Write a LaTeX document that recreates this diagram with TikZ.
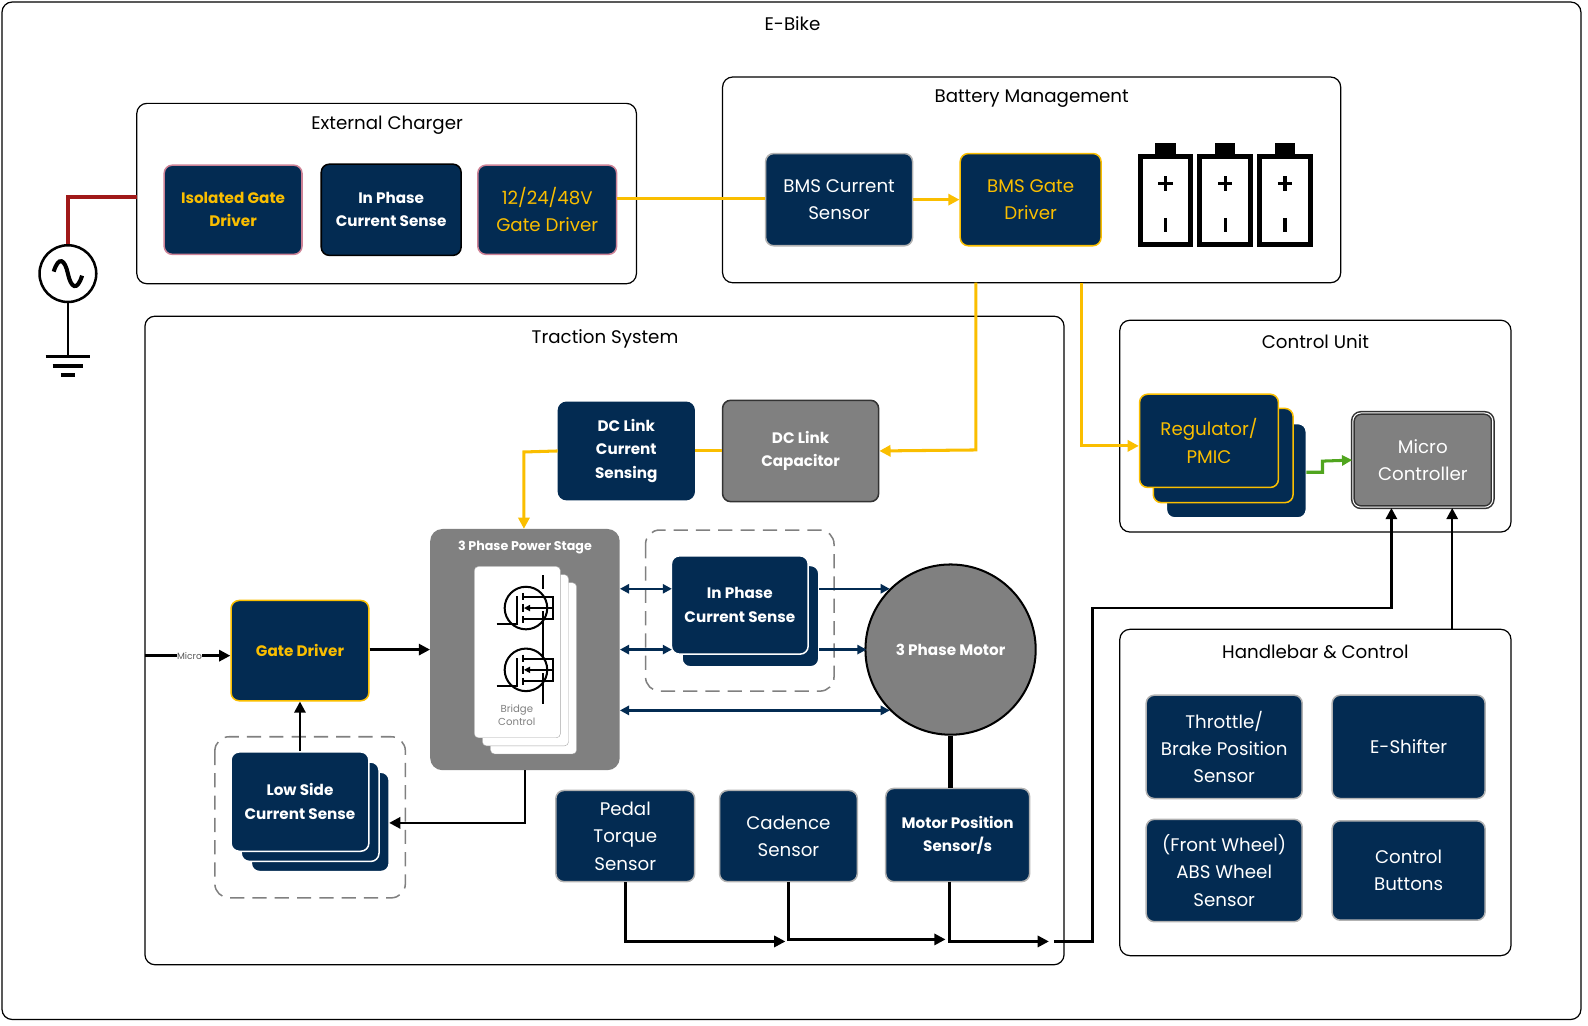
\documentclass[tikz,border=0pt]{standalone}
\usepackage{fontspec}
\setmainfont{Poppins}
\usetikzlibrary{arrows.meta}
\definecolor{navy}{RGB}{3,43,82}
\definecolor{yel}{RGB}{250,190,0}
\definecolor{dred}{RGB}{160,25,25}
\definecolor{grn}{RGB}{80,165,30}
\definecolor{pnk}{RGB}{205,130,150}
\definecolor{gr}{RGB}{128,128,128}
\tikzset{
 grp/.style={draw=black,line width=1.2pt,rounded corners=10},
 ttl/.style={font=\fontsize{18}{21}\selectfont},
 bx/.style={fill=navy,rounded corners=8,line width=1.5pt,align=center,text=white,inner sep=2pt},
 breg/.style={font=\fontsize{18}{27}\selectfont},
 bbold/.style={font=\bfseries\fontsize{15}{23}\selectfont},
 yc/.style={draw=yel,line width=3pt},
 bc/.style={draw=black,line width=2.5pt},
 nc/.style={draw=navy,line width=2.5pt,{Triangle[length=9pt,width=9pt]}-{Triangle[length=9pt,width=9pt]}},
 tip/.style={-{Triangle[length=11pt,width=11pt]}},
}
\begin{document}
\begin{tikzpicture}[x=1pt,y=-1pt]
\useasboundingbox (0,0) rectangle (1567,1011.5);
% groups
\draw[grp] (2,2) rectangle (1560,1006);
\node[ttl] (tEB) at (782,23) {E-Bike};
\draw[grp] (135,102) rectangle (628,280);
\node[ttl] (tEC) at (382,124) {External Charger};
\draw[grp] (713,76) rectangle (1323,279);
\node[ttl] (tBM) at (1018,97) {Battery Management};
\draw[grp] (143,312) rectangle (1050,952);
\node[ttl] (tTS) at (597,334) {Traction System};
\draw[grp] (1105,316) rectangle (1491,525);
\node[ttl] (tCU) at (1298,337) {Control Unit};
\draw[grp] (1105,621) rectangle (1491,943);
\node[ttl] (tHB) at (1298,643) {Handlebar \& Control};
% charger
\node[bx,draw=pnk,text=yel,bbold,minimum width=136,minimum height=88] (igd) at (230,207) {Isolated Gate\\Driver};
\node[bx,draw=black,bbold,minimum width=138,minimum height=90] (ipc) at (386,207) {In Phase\\Current Sense};
\node[bx,draw=pnk,text=yel,breg,minimum width=137,minimum height=88] (gd48) at (540,207) {12/24/48V\\Gate Driver};
% BMS
\node[bx,draw=gray!60,breg,minimum width=145,minimum height=91] (bmsc) at (828,197) {BMS Current\\Sensor};
\node[bx,draw=yel,text=yel,breg,minimum width=139,minimum height=91] (bmsg) at (1017,197) {BMS Gate\\Driver};
\foreach \bx in {1150,1209,1268}{
 \fill[black] (\bx-10,141) rectangle (\bx+10,152);
 \draw[line width=5pt,fill=white] (\bx-25,154) rectangle (\bx+25,241);
 \draw[line width=3pt] (\bx-7,181) -- (\bx+7,181) (\bx,174) -- (\bx,188);
 \draw[line width=3pt] (\bx,215) -- (\bx,229);
}
\draw[yc] (gd48.east |- 0,196) -- (bmsc.west |- 0,196);
\draw[yc,tip] (bmsc.east) -- (bmsg.west);
% AC source
\coordinate (rc) at (67,194);
\coordinate (rs) at (135,194);
\node[draw,circle,line width=2.5pt,minimum size=56] (ac) at (67,270) {};
\draw[dred,line width=4pt] (rs) -- (rc) -- (67,241);
\draw[line width=2.5pt] (67,241) -- (ac.north);
\draw[line width=4pt] (53,268) .. controls (58,252) and (64,256) .. (67,270) .. controls (70,284) and (76,288) .. (81,272);
\coordinate (gnd) at (67,352);
\draw[line width=2.5pt] (ac.south) -- (gnd);
\draw[line width=3.5pt] (45,352) -- (89,352) (52,361) -- (82,361) (60,370) -- (74,370);
% traction
\node[bx,draw=navy,bbold,minimum width=134,minimum height=96] (dcs) at (618,445) {DC Link\\Current\\Sensing};
\node[bx,fill=gr,draw=black!80,bbold,minimum width=154,minimum height=100] (dcc) at (790,445) {DC Link\\Capacitor};
\draw[yc,tip] (963,279) -- (963,444) -- (dcc.east);
\draw[yc] (dcs.east) -- (dcc.west);
% power stage
\node[fill=gr,rounded corners=12,minimum width=187,minimum height=238] (ps) at (518,641) {};
\node[text=white,font=\bfseries\fontsize{12.5}{14}\selectfont] (pst) at (518,540) {3 Phase Power Stage};
\draw[yc,tip] (dcs.west) -- (517,446) -- (ps.north -| 517,0);
\foreach \o in {16,8,0}{\draw[draw=gray!70,fill=white,rounded corners=4] (468+\o,559+\o) rectangle (553+\o,728+\o);}
\node[text=gray,font=\fontsize{10}{13}\selectfont,align=center] (bcl) at (510,706) {Bridge\\Control};
\foreach \my in {600,661}{
 \draw[line width=2pt] (519,\my) circle (21);
 \draw[line width=2pt] (490,\my+16) -- (510,\my+16) -- (510,\my-12);
 \draw[line width=2pt] (516,\my-15) -- (516,\my-8) (516,\my-4) -- (516,\my+4) (516,\my+8) -- (516,\my+15);
 \draw[line width=2pt] (516,\my-11) -- (536,\my-11) (516,\my+11) -- (536,\my+11) -- (536,\my+3);
 \draw[line width=2pt,-{Triangle[length=6pt,width=6pt]}] (546,\my) -- (517,\my);
 \draw[line width=2pt] (536,\my+11) -- (546,\my+11) -- (546,\my-11) -- (536,\my-11);
}
\draw[line width=2pt] (536,581) -- (536,567) (536,611) -- (536,650) (536,672) -- (536,695);
% in phase current sense
\draw[gray,dash pattern=on 14pt off 8pt,line width=1.5pt,rounded corners=14] (637,523) rectangle (823,682);
\draw[fill=navy,draw=white,line width=1.5pt,rounded corners=8] (673,558) rectangle (808,658);
\node[bx,draw=white,bbold,minimum width=135,minimum height=97] (ipc2) at (730,597) {In Phase\\Current Sense};
\node[circle,fill=gr,draw=black,line width=2pt,minimum size=168,text=white,bbold] (mot) at (938,641) {3 Phase Motor};
\draw[nc] (ps.east |- 0,581) -- (663,581);
\draw[nc] (ps.east |- 0,641) -- (663,641);
\draw[draw=navy,line width=2.5pt,-{Triangle[length=9pt,width=9pt]}] (808,581) -- (878,581);
\draw[draw=navy,line width=2.5pt,-{Triangle[length=9pt,width=9pt]}] (808,641) -- (855,641);
\draw[nc] (ps.east |- 0,701) -- (878,701);
% gate driver
\node[bx,draw=yel,text=yel,bbold,minimum width=136,minimum height=99] (gd) at (296,642) {Gate Driver};
\coordinate (micin) at (143,647);
\draw[bc,tip] (micin) -- (gd.west |- 0,647);
\node[fill=white,inner sep=0.5pt,text=gray!70!black,font=\fontsize{9}{10}\selectfont] (micl) at (187,647) {Micro};
\draw[bc,tip] (gd.east |- 0,641) -- (ps.west |- 0,641);
\draw[gray,dash pattern=on 14pt off 8pt,line width=1.5pt,rounded corners=14] (212,727) rectangle (400,886);
\draw[fill=navy,draw=white,line width=1.5pt,rounded corners=8] (248,762) rectangle (384,860);
\draw[fill=navy,draw=white,line width=1.5pt,rounded corners=8] (238,752) rectangle (374,850);
\node[bx,draw=white,bbold,minimum width=136,minimum height=98] (ls) at (296,791) {Low Side\\Current Sense};
\draw[bc,tip] (ls.north) -- (gd.south);
\draw[bc,tip] (ps.south -| 518,0) -- (518,812) -- (384,812);
% sensors
\node[bx,draw=gray!60,breg,minimum width=137,minimum height=90] (pts) at (617,825) {Pedal\\Torque\\Sensor};
\node[bx,draw=gray!60,breg,minimum width=136,minimum height=90] (cad) at (778,825) {Cadence\\Sensor};
\node[bx,draw=gray!60,bbold,minimum width=142,minimum height=92] (mps) at (945,824) {Motor Position\\Sensor/s};
\draw[line width=5pt] (mot.south) -- (mot.south |- mps.north);
\draw[bc,tip] (pts.south) -- (617,929) -- (775,929);
\draw[bc,tip] (cad.south) -- (778,927) -- (933,927);
\draw[bc,tip] (937,870) -- (937,929) -- (1035,929);
% control unit
\draw[fill=navy,draw=white,line width=1.5pt,rounded corners=8] (1151,418) rectangle (1289,511);
\draw[fill=navy,draw=yel,line width=1.5pt,rounded corners=8] (1138,403) rectangle (1276,496);
\node[bx,draw=yel,text=yel,breg,minimum width=137,minimum height=92] (reg) at (1193,435) {Regulator/\\PMIC};
\node[bx,fill=gr,draw=black!80,double=white,double distance=1pt,breg,minimum width=138,minimum height=93] (mc) at (1404,454) {Micro\\Controller};
\draw[grn,line width=3pt,-{Triangle[length=10pt,width=10pt]}] (1289,466) -- (1305,466) -- (1305,455) -- (mc.west);
\draw[yc,tip] (1067,279) -- (1067,440) -- (reg.west |- 0,440);
\draw[bc,tip] (1040,929) -- (1078,929) -- (1078,600) -- (1373,600) -- (mc.south -| 1373,0);
\draw[bc,tip] (1433,621) -- (mc.south -| 1433,0);
% handlebar
\node[bx,draw=gray!60,breg,minimum width=154,minimum height=102] (thr) at (1208,737) {Throttle/\\Brake Position\\Sensor};
\node[bx,draw=gray!60,breg,minimum width=151,minimum height=102] (esh) at (1390,737) {E-Shifter};
\node[bx,draw=gray!60,breg,minimum width=154,minimum height=101] (abs) at (1208,859) {(Front Wheel)\\ABS Wheel\\Sensor};
\node[bx,draw=gray!60,breg,minimum width=151,minimum height=98] (cb) at (1390,859) {Control\\Buttons};
\end{tikzpicture}
\end{document}
